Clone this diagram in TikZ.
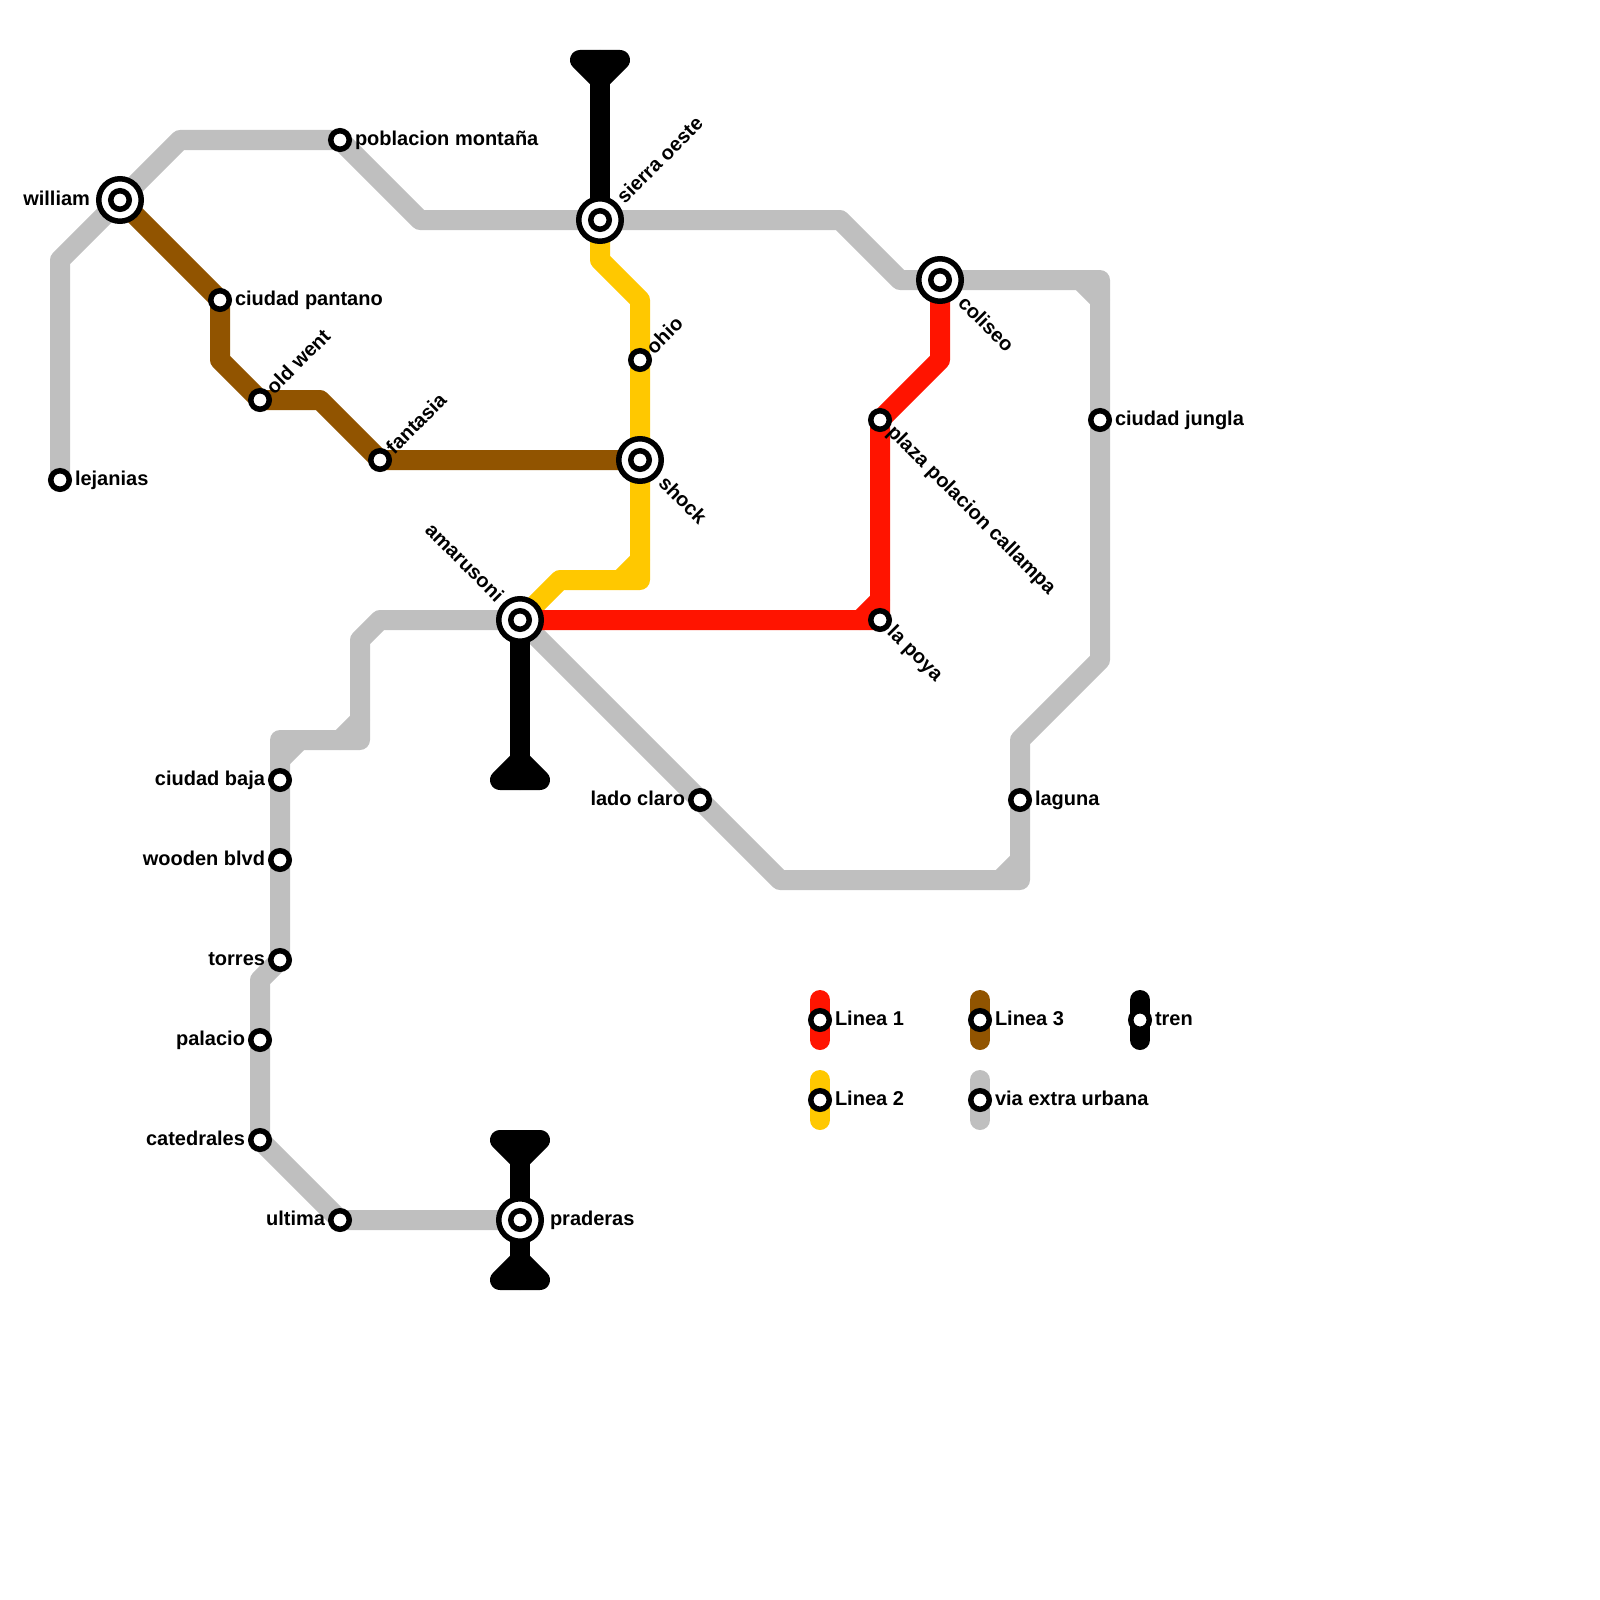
\documentclass[tikz,border=0pt]{standalone}
\usepackage{fontspec}
\setmainfont{Liberation Sans}
\usetikzlibrary{backgrounds}
\definecolor{lred}{RGB}{255,20,0}
\definecolor{lyel}{RGB}{255,200,0}
\definecolor{lbro}{RGB}{145,84,0}
\definecolor{lgry}{RGB}{191,191,191}
\tikzset{
  stn/.style={circle,draw=black,fill=white,line width=5.5pt,inner sep=0pt,minimum size=18.5pt,outer sep=0pt},
  hub/.style={circle,draw=black,fill=white,line width=5.5pt,inner sep=0pt,minimum size=42.5pt,outer sep=0pt},
  lab/.style={font=\fontsize{20pt}{24pt}\selectfont\bfseries,inner sep=0pt,outer sep=0pt,text=black},
  lr/.style={lab,anchor=base west},
  ll/.style={lab,anchor=base east},
  ur/.style={lab,anchor=base west,rotate=45},
  dr/.style={lab,anchor=base west,rotate=-45},
  ule/.style={lab,anchor=base east,rotate=-45},
  track/.style={line width=20pt,line join=round,line cap=round},
  gry/.style={track,draw=lgry},
  red/.style={track,draw=lred},
  yel/.style={track,draw=lyel},
  bro/.style={track,draw=lbro},
  blk/.style={track,draw=black},
  term/.style={track,draw=black,fill=black},
}
\begin{document}
\begin{tikzpicture}[x=1pt,y=-1pt]
\useasboundingbox (0,0) rectangle (1600,1600);
% interchange rings
\node[hub] (williamR) at (120,200) {};
\node[hub] (sierraR) at (600,220) {};
\node[hub] (coliseoR) at (940,280) {};
\node[hub] (shockR) at (640,460) {};
\node[hub] (amaruR) at (520,620) {};
\node[hub] (praderasR) at (520,1220) {};
% stations
\node[stn] (william) at (120,200) {};
\node[stn] (sierra) at (600,220) {};
\node[stn] (coliseo) at (940,280) {};
\node[stn] (shock) at (640,460) {};
\node[stn] (amaru) at (520,620) {};
\node[stn] (praderas) at (520,1220) {};
\node[stn] (lejanias) at (60,480) {};
\node[stn] (poblacion) at (340,140) {};
\node[stn] (pantano) at (220,300) {};
\node[stn] (oldwent) at (260,400) {};
\node[stn] (fantasia) at (380,460) {};
\node[stn] (ohio) at (640,360) {};
\node[stn] (plaza) at (880,420) {};
\node[stn] (lapoya) at (880,620) {};
\node[stn] (jungla) at (1100,420) {};
\node[stn] (laguna) at (1020,800) {};
\node[stn] (ladoclaro) at (700,800) {};
\node[stn] (baja) at (280,780) {};
\node[stn] (wooden) at (280,860) {};
\node[stn] (torres) at (280,960) {};
\node[stn] (palacio) at (260,1040) {};
\node[stn] (catedrales) at (260,1140) {};
\node[stn] (ultima) at (340,1220) {};
\node[stn] (kred) at (820,1020) {};
\node[stn] (kyel) at (820,1100) {};
\node[stn] (kbro) at (980,1020) {};
\node[stn] (kgry) at (980,1100) {};
\node[stn] (kblk) at (1140,1020) {};
% labels
\node[ll] (Lwilliam) at ([shift={(-30,5.2)}]william.center) {william};
\node[ur] (Lsierra) at ([shift={(24.9,-15.5)}]sierra.center) {sierra oeste};
\node[dr] (Lcoliseo) at ([shift={(17,24.4)}]coliseo.center) {coliseo};
\node[dr] (Lshock) at ([shift={(17.5,24.4)}]shock.center) {shock};
\node[ule] (Lamaru) at ([shift={(-24.4,-17)}]amaru.center) {amarusoni};
\node[lr] (Lpraderas) at ([shift={(30,5.2)}]praderas.center) {praderas};
\node[lr] (Llejanias) at ([shift={(15,5.2)}]lejanias.center) {lejanias};
\node[lr] (Lpoblacion) at ([shift={(15,5.2)}]poblacion.center) {poblacion montaña};
\node[lr] (Lpantano) at ([shift={(15,5.2)}]pantano.center) {ciudad pantano};
\node[ur] (Loldwent) at ([shift={(14.3,-4.9)}]oldwent.center) {old went};
\node[ur] (Lfantasia) at ([shift={(14.3,-4.9)}]fantasia.center) {fantasia};
\node[ur] (Lohio) at ([shift={(14.3,-4.9)}]ohio.center) {ohio};
\node[dr] (Lplaza) at ([shift={(6.4,13.3)}]plaza.center) {plaza polacion callampa};
\node[dr] (Llapoya) at ([shift={(6.4,13.3)}]lapoya.center) {la poya};
\node[lr] (Ljungla) at ([shift={(15,5.2)}]jungla.center) {ciudad jungla};
\node[lr] (Llaguna) at ([shift={(15,5.2)}]laguna.center) {laguna};
\node[ll] (Lladoclaro) at ([shift={(-15,5.2)}]ladoclaro.center) {lado claro};
\node[ll] (Lbaja) at ([shift={(-15,5.2)}]baja.center) {ciudad baja};
\node[ll] (Lwooden) at ([shift={(-15,5.2)}]wooden.center) {wooden blvd};
\node[ll] (Ltorres) at ([shift={(-15,5.2)}]torres.center) {torres};
\node[ll] (Lpalacio) at ([shift={(-15,5.2)}]palacio.center) {palacio};
\node[ll] (Lcatedrales) at ([shift={(-15,5.2)}]catedrales.center) {catedrales};
\node[ll] (Lultima) at ([shift={(-15,5.2)}]ultima.center) {ultima};
\node[lr] (Lkred) at ([shift={(15,5.2)}]kred.center) {Linea 1};
\node[lr] (Lkyel) at ([shift={(15,5.2)}]kyel.center) {Linea 2};
\node[lr] (Lkbro) at ([shift={(15,5.2)}]kbro.center) {Linea 3};
\node[lr] (Lkgry) at ([shift={(15,5.2)}]kgry.center) {via extra urbana};
\node[lr] (Lkblk) at ([shift={(15,5.2)}]kblk.center) {tren};
% bends and free ends
\coordinate (g1) at (60,260);
\coordinate (g2) at (180,140);
\coordinate (g3) at (420,220);
\coordinate (g4) at (840,220);
\coordinate (g5) at (900,280);
\coordinate (g6) at (1100,280);
\coordinate (g6a) at (1080,280);
\coordinate (g6b) at (1100,300);
\coordinate (g7) at (1100,660);
\coordinate (g8) at (1020,740);
\coordinate (g9) at (1020,880);
\coordinate (g9a) at (1020,860);
\coordinate (g9b) at (1000,880);
\coordinate (g10) at (780,880);
\coordinate (h1) at (380,620);
\coordinate (h2) at (360,640);
\coordinate (h3) at (360,740);
\coordinate (h3a) at (360,720);
\coordinate (h3b) at (340,740);
\coordinate (h4) at (280,740);
\coordinate (h4a) at (300,740);
\coordinate (h4b) at (280,760);
\coordinate (h5) at (260,980);
\coordinate (y1) at (600,260);
\coordinate (y2) at (640,300);
\coordinate (y3) at (640,580);
\coordinate (y3a) at (640,560);
\coordinate (y3b) at (620,580);
\coordinate (y4) at (560,580);
\coordinate (r1) at (860,620);
\coordinate (r2) at (880,600);
\coordinate (r3) at (940,360);
\coordinate (b1) at (220,360);
\coordinate (b2) at (320,400);
\coordinate (t1) at (600,60);
\coordinate (t1a) at (580,60);
\coordinate (t1b) at (620,60);
\coordinate (t1c) at (600,80);
\coordinate (t2) at (520,780);
\coordinate (t2a) at (500,780);
\coordinate (t2b) at (540,780);
\coordinate (t2c) at (520,760);
\coordinate (t3) at (520,1140);
\coordinate (t3a) at (500,1140);
\coordinate (t3b) at (540,1140);
\coordinate (t3c) at (520,1160);
\coordinate (t4) at (520,1280);
\coordinate (t4a) at (500,1280);
\coordinate (t4b) at (540,1280);
\coordinate (t4c) at (520,1260);
\begin{pgfonlayer}{background}
% via extra urbana
\draw[gry] (lejanias.center) -- (g1) -- (william.center) -- (g2) -- (poblacion.center) -- (g3) -- (sierra.center) -- (g4) -- (g5) -- (coliseo.center) -- (g6) -- (jungla.center) -- (g7) -- (g8) -- (laguna.center) -- (g9) -- (g10) -- (ladoclaro.center) -- (amaru.center);
\draw[gry] (g6a) -- (g6b);
\draw[gry] (g9a) -- (g9b);
\draw[gry] (amaru.center) -- (h1) -- (h2) -- (h3) -- (h4) -- (baja.center) -- (wooden.center) -- (torres.center) -- (h5) -- (palacio.center) -- (catedrales.center) -- (ultima.center) -- (praderas.center);
\draw[gry] (h3a) -- (h3b);
\draw[gry] (h4a) -- (h4b);
% Linea 3
\draw[bro] (william.center) -- (pantano.center) -- (b1) -- (oldwent.center) -- (b2) -- (fantasia.center) -- (shock.center);
% Linea 2
\draw[yel] (sierra.center) -- (y1) -- (y2) -- (ohio.center) -- (shock.center) -- (y3) -- (y4) -- (amaru.center);
\draw[yel] (y3a) -- (y3b);
% Linea 1
\draw[red] (amaru.center) -- (lapoya.center) -- (plaza.center) -- (r3) -- (coliseo.center);
\draw[red] (r1) -- (r2);
% tren
\draw[blk] (t1) -- (sierra.center);
\draw[term] (t1a) -- (t1b) -- (t1c) -- cycle;
\draw[blk] (amaru.center) -- (t2);
\draw[term] (t2a) -- (t2b) -- (t2c) -- cycle;
\draw[blk] (t3) -- (praderas.center) -- (t4);
\draw[term] (t3a) -- (t3b) -- (t3c) -- cycle;
\draw[term] (t4a) -- (t4b) -- (t4c) -- cycle;
% legend
\draw[red] ([yshift=-20pt]kred.center) -- ([yshift=20pt]kred.center);
\draw[yel] ([yshift=-20pt]kyel.center) -- ([yshift=20pt]kyel.center);
\draw[bro] ([yshift=-20pt]kbro.center) -- ([yshift=20pt]kbro.center);
\draw[gry] ([yshift=-20pt]kgry.center) -- ([yshift=20pt]kgry.center);
\draw[blk] ([yshift=-20pt]kblk.center) -- ([yshift=20pt]kblk.center);
\end{pgfonlayer}
\end{tikzpicture}
\end{document}
